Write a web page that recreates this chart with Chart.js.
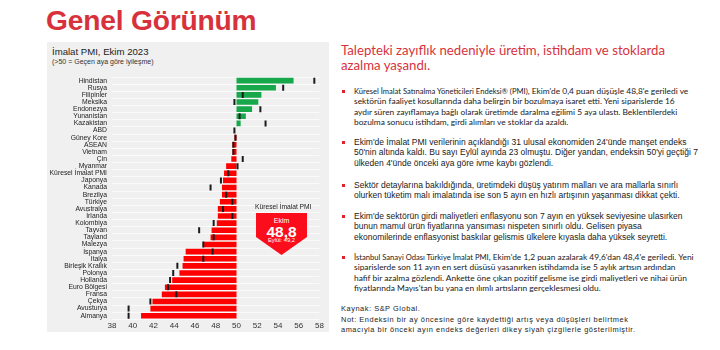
<!DOCTYPE html>
<html>
<head>
<meta charset="utf-8">
<script src="https://cdn.jsdelivr.net/npm/chart.js@4.4.0/dist/chart.umd.min.js"></script>
<style>
  body { margin: 0; background: #fff; width: 720px; height: 350px; overflow: hidden; position: relative; font-family: "Liberation Sans", Arial, sans-serif; }
  .abs { position: absolute; white-space: nowrap; }
  #title { left: 46px; top: 6px; font-size: 28.2px; line-height: 28px; font-weight: bold; color: #d7323c; letter-spacing: -0.2px; }
  #panel { left: 47px; top: 42px; width: 282px; height: 290px; background: #f0f0f0; }
  #chart-wrap { left: 47px; top: 68px; width: 282px; height: 266px; }
  .ptitle { left: 52px; top: 46px; font-size: 9.6px; line-height: 12px; color: #222; }
  .psub { left: 52px; top: 58px; font-size: 7px; line-height: 8px; color: #333; }
  #box-label { left: 255px; top: 202px; font-size: 6.7px; line-height: 10px; color: #222; }
  #box { left: 256px; top: 213px; width: 51px; height: 42px; background: #fb0d1b; color: #fff; text-align: center;
         clip-path: polygon(0 0, 100% 0, 100% 57%, 50% 100%, 0 57%); }
  #box div { position: absolute; left: 0; width: 100%; }
  .head { left: 341px; font-family: Lato, "Open Sans", sans-serif; font-size: 13.2px; line-height: 14px; color: #d7323c; }
  .txt { left: 354px; font-size: 8.5px; line-height: 10px; color: #1a1a1a; }
  .cal { font-family: Lato, sans-serif; font-size: 8.4px; }
  .cal .sm { font-size: 7.6px; }
  .bul { position: absolute; left: 342px; width: 3px; height: 3px; background: #e0202a; }
  .note { left: 341px; font-size: 7.4px; line-height: 9px; color: #222; letter-spacing: 0.55px; }
</style>
</head>
<body>
<div id="title" class="abs">Genel Görünüm</div>
<div id="panel" class="abs"></div>
<div class="abs ptitle">İmalat PMI, Ekim 2023</div>
<div class="abs psub">(&gt;50 = Geçen aya göre iyileşme)</div>
<div id="chart-wrap" class="abs"><canvas id="pmi"></canvas></div>
<div id="box-label" class="abs">Küresel İmalat PMI</div>
<div id="box" class="abs">
  <div style="top:3px;font-size:7px;line-height:9px;">Ekim</div>
  <div style="top:11px;font-size:15.5px;line-height:16px;font-weight:bold;">48,8</div>
  <div style="top:24px;font-size:5.8px;line-height:7px;">Eylül: 49,2</div>
</div>

<div class="abs head" style="top:43px">Talepteki zayıflık nedeniyle üretim, istihdam ve stoklarda</div>
<div class="abs head" style="top:58px">azalma yaşandı.</div>

<div id="text"></div>

<script>
const countries = ['Hindistan', 'Rusya', 'Filipinler', 'Meksika', 'Endonezya', 'Yunanistan', 'Kazakistan', 'ABD',
  'Güney Kore', 'ASEAN', 'Vietnam', 'Çin', 'Myanmar', 'Küresel İmalat PMI', 'Japonya', 'Kanada', 'Brezilya',
  'Türkiye', 'Avustralya', 'İrlanda', 'Kolombiya', 'Tayvan', 'Tayland', 'Malezya', 'İspanya', 'İtalya',
  'Birleşik Krallık', 'Polonya', 'Hollanda', 'Euro Bölgesi', 'Fransa', 'Çekya', 'Avusturya', 'Almanya'];
// Ekim 2023
const october = [55.5, 53.8, 52.4, 52.1, 51.5, 50.9, 50.4, 50.0,
  49.8, 49.6, 49.6, 49.5, 49.0, 48.8, 48.7, 48.6, 48.6,
  48.4, 48.2, 48.2, 48.1, 47.6, 47.5, 46.8, 45.1, 44.9,
  44.8, 44.5, 43.8, 43.1, 42.8, 41.9, 41.7, 40.8];
// Eylül 2023 (siyah çizgiler)
const september = [57.5, 54.5, 50.6, 49.8, 52.3, 50.3, 52.8, 49.8,
  49.9, 49.7, 49.7, 50.6, 50.1, 49.2, 48.5, 47.5, 49.0,
  49.6, 48.7, 49.6, 47.8, 46.4, 47.8, 46.8, 47.7, 46.8,
  44.3, 43.9, 43.6, 43.4, 44.2, 41.7, 39.6, 39.6];
const xTicks = [38, 40, 42, 44, 46, 48, 50, 52, 54, 56, 58];

// right hand text: [centre y of first line, small lead-in, lines, extra class]
const bullets = [
  [91, 'Küresel İmalat Satınalma Yöneticileri Endeksi® (PMI)',
       [', Ekim\'de 0,4 puan düşüşle 48,8\'e geriledi ve',
        'sektörün faaliyet kosullarında daha belirgin bir bozulmaya isaret etti. Yeni siparislerde 16',
        'aydır süren zayıflamaya bağlı olarak üretimde daralma eğilimi 5 aya ulastı. Beklentilerdeki',
        'bozulma sonucu istihdam, girdi alımları ve stoklar da azaldı.'], 'cal'],
  [142, '', ['Ekim\'de İmalat PMI verilerinin açıklandığı 31 ulusal ekonomiden 24\'ünde manşet endeks',
         '50\'nin altında kaldı. Bu sayı Eylül ayında 23 olmuştu. Diğer yandan, endeksin 50\'yi geçtiği 7',
         'ülkeden 4\'ünde önceki aya göre ivme kaybı gözlendi.'], ''],
  [185, '', ['Sektör detaylarına bakıldığında, üretimdeki düşüş yatırım malları ve ara mallarla sınırlı',
         'olurken tüketim malı imalatında ise son 5 ayın en hızlı artışının yaşanması dikkat çekti.'], ''],
  [216, '', ['Ekim\'de sektörün girdi maliyetleri enflasyonu son 7 ayın en yüksek seviyesine ulasırken',
         'bunun mamul ürün fiyatlarına yansıması nispeten sınırlı oldu. Gelisen piyasa',
         'ekonomilerinde enflasyonist baskılar gelismis ülkelere kıyasla daha yüksek seyretti.'], ''],
  [257, 'İstanbul Sanayi Odası Türkiye İmalat PMI',
        [', Ekim\'de 1,2 puan azalarak 49,6\'dan 48,4\'e geriledi. Yeni',
         'siparislerde son 11 ayın en sert düsüsü yasanırken istihdamda ise 5 aylık artısın ardından',
         'hafif bir azalma gözlendi. Ankette öne çıkan pozitif gelisme ise girdi maliyetleri ve nihai ürün',
         'fiyatlarında Mayıs\'tan bu yana en ılımlı artısların gerçeklesmesi oldu.'], 'cal']
];
const notes = [
  [308.5, 'Kaynak: S&P Global.'],
  [319.5, 'Not: Endeksin bir ay öncesine göre kaydettiği artış veya düşüşleri belirtmek'],
  [329.5, 'amacıyla bir önceki ayın endeks değerleri dikey siyah çizgilerle gösterilmiştir.']
];

const holder = document.getElementById('text');
for (let b of bullets) {
  let sq = document.createElement('div');
  sq.className = 'bul';
  sq.style.top = (b[0] - 1.5) + 'px';
  holder.appendChild(sq);
  b[2].forEach((line, i) => {
    let d = document.createElement('div');
    d.className = 'abs txt ' + b[3];
    d.style.top = (b[0] + i * 10.4 - 5) + 'px';
    if (i == 0 && b[1]) {
      let s = document.createElement('span');
      s.className = 'sm';
      s.textContent = b[1];
      d.appendChild(s);
      d.appendChild(document.createTextNode(line));
    } else {
      d.textContent = line;
    }
    holder.appendChild(d);
  });
}
for (let n of notes) {
  let d = document.createElement('div');
  d.className = 'abs note';
  d.style.top = (n[0] - 4.5) + 'px';
  d.textContent = n[1];
  holder.appendChild(d);
}

Chart.defaults.font.family = '"Liberation Sans", Arial, sans-serif';
Chart.defaults.color = '#222';

new Chart(document.getElementById('pmi'), {
  data: {
    labels: countries,
    datasets: [{
      type: 'line',
      data: september.map((v, i) => ({x: v, y: countries[i]})),
      showLine: false,
      pointStyle: 'line',
      pointRotation: 90,
      pointRadius: 3,
      pointBorderWidth: 2,
      pointBorderColor: '#1b1b1b',
      order: 0
    }, {
      type: 'bar',
      data: october.map(v => [50, v]),
      backgroundColor: october.map(v => v >= 50 ? '#17a84b' : '#fe0000'),
      borderWidth: 0,
      barPercentage: 0.78,
      categoryPercentage: 1,
      order: 1
    }]
  },
  options: {
    indexAxis: 'y',
    responsive: true,
    maintainAspectRatio: false,
    animation: false,
    layout: { padding: { top: 0, right: 9.5, left: 0, bottom: 0 } },
    plugins: { legend: { display: false }, tooltip: { enabled: false } },
    scales: {
      x: {
        type: 'linear',
        min: 38, max: 58,
        afterBuildTicks: s => { s.ticks = xTicks.map(v => ({value: v})); },
        afterFit: s => { s.height = 14.7; },
        ticks: { font: { size: 8 }, color: '#333', padding: 1.5 },
        grid: { display: false, drawTicks: false },
        border: { display: false }
      },
      y: {
        type: 'category',
        afterFit: s => { s.width = 65; },
        ticks: { font: { size: 6.8 }, color: '#222', padding: 5, autoSkip: false },
        grid: { color: '#fafafa', lineWidth: 1, drawTicks: false },
        border: { display: false }
      }
    }
  }
});
</script>
</body>
</html>
